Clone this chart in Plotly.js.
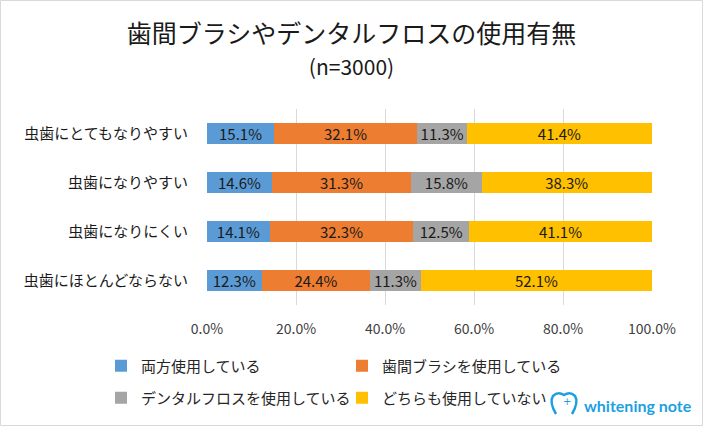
<!DOCTYPE html>
<html>
<head>
<meta charset="utf-8">
<script src="https://cdn.plot.ly/plotly-3.0.1.min.js"></script>
<style>html,body{margin:0;padding:0;background:#fff;}#chart{width:703px;height:426px;}</style>
</head>
<body>
<div id="chart"></div>
<script>
const categories = ["虫歯にとてもなりやすい", "虫歯になりやすい", "虫歯になりにくい", "虫歯にほとんどならない"];
const seriesNames = ["両方使用している", "歯間ブラシを使用している", "デンタルフロスを使用している", "どちらも使用していない"];
const bothUse = [15.1, 14.6, 14.1, 12.3];
const brushUse = [32.1, 31.3, 32.3, 24.4];
const flossUse = [11.3, 15.8, 12.5, 11.3];
const neitherUse = [41.4, 38.3, 41.1, 52.1];
const tickVals = [0, 20, 40, 60, 80, 100];
const tickLabels = ["0.0%", "20.0%", "40.0%", "60.0%", "80.0%", "100.0%"];

const colors = ["#5B9BD5", "#ED7D31", "#A5A5A5", "#FFC000"];
const seriesData = [bothUse, brushUse, flossUse, neitherUse];
const FONT = "'Noto Sans CJK JP', 'Noto Sans', sans-serif";

// plot area in pixels
const L = 207, R = 652, T = 109, B = 305;
const px = x => (x - L) / (R - L);
const py = y => (B - y) / (B - T);

const traces = seriesData.map((vals, i) => ({
  type: "bar",
  orientation: "h",
  name: seriesNames[i],
  y: categories,
  x: vals,
  marker: {color: colors[i], line: {width: 0}},
  text: vals.map(v => v.toFixed(1) + "%"),
  textposition: "inside",
  insidetextanchor: "middle",
  textangle: 0,
  constraintext: "none",
  textfont: {family: FONT, size: 15, color: "#1a1a1a"},
  hoverinfo: "x+name",
  legend: i < 2 ? "legend" : "legend2"
}));

const toothPath = () => {
  const X = v => px(v), Y = v => py(v);
  return `M ${X(556)},${Y(414)} Q ${X(549)},${Y(402)} ${X(553)},${Y(396)} Q ${X(558)},${Y(391)} ${X(564)},${Y(395)} Q ${X(570)},${Y(391)} ${X(575)},${Y(396)} Q ${X(579)},${Y(402)} ${X(572)},${Y(414)}`;
};

const legendCommon = {
  orientation: "h",
  traceorder: "normal",
  x: px(101), xanchor: "left",
  yanchor: "middle",
  entrywidth: 196, entrywidthmode: "pixels",
  font: {family: FONT, size: 15, color: "#262626"},
  bgcolor: "rgba(0,0,0,0)", borderwidth: 0
};

const layout = {
  width: 703, height: 426,
  margin: {l: L, r: 703 - R, t: T, b: 426 - B},
  paper_bgcolor: "#ffffff",
  plot_bgcolor: "#ffffff",
  barmode: "stack",
  bargap: 0.59,
  font: {family: FONT, color: "#262626"},
  title: {
    text: "歯間ブラシやデンタルフロスの使用有無<br><span style='font-size:21px'>(n=3000)</span>",
    font: {family: FONT, size: 25, color: "#1a1a1a"},
    x: 0.5, xanchor: "center",
    yref: "container", y: 0.9, yanchor: "top"
  },
  xaxis: {
    range: [0, 100],
    tickvals: tickVals,
    ticktext: tickLabels,
    showgrid: true, gridcolor: "#D9D9D9", gridwidth: 1,
    zeroline: false, showline: false, ticks: "",
    ticklabelstandoff: 14,
    tickfont: {family: FONT, size: 14, color: "#404040"},
    fixedrange: true
  },
  yaxis: {
    autorange: "reversed",
    showgrid: false, zeroline: false, showline: false, ticks: "",
    ticklabelstandoff: 18,
    tickfont: {family: FONT, size: 15, color: "#1a1a1a"},
    fixedrange: true
  },
  legend: Object.assign({}, legendCommon, {y: py(366)}),
  legend2: Object.assign({}, legendCommon, {y: py(398)}),
  annotations: [{
    text: "<b>whitening note</b>",
    xref: "paper", yref: "paper",
    x: px(582), y: py(405), xanchor: "left", yanchor: "middle",
    showarrow: false,
    font: {family: "Lato, 'Noto Sans', sans-serif", size: 16, color: "#1E9FE3"}
  }, {
    text: "+",
    xref: "paper", yref: "paper",
    x: px(567), y: py(401), xanchor: "center", yanchor: "middle",
    showarrow: false,
    font: {family: "'DejaVu Sans', sans-serif", size: 10, color: "#1E9FE3"}
  }],
  shapes: [{
    type: "rect", xref: "paper", yref: "paper",
    x0: px(0.5), x1: px(702.5), y0: py(425.5), y1: py(0.5),
    line: {color: "#D9D9D9", width: 1}, fillcolor: "rgba(0,0,0,0)", layer: "below"
  }, {
    type: "path", xref: "paper", yref: "paper",
    path: toothPath(),
    line: {color: "#1E9FE3", width: 2.5}
  }],
  showlegend: true
};

Plotly.newPlot("chart", traces, layout, {displayModeBar: false, staticPlot: true});
</script>
</body>
</html>
